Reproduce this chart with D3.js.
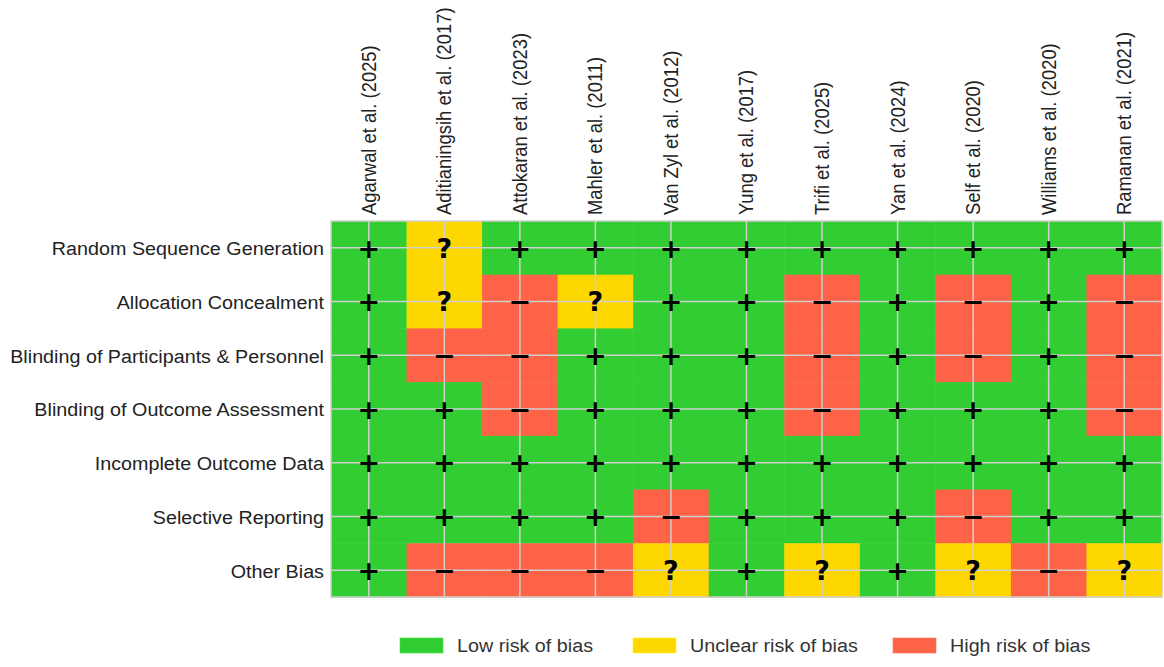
<!DOCTYPE html>
<html>
<head>
<meta charset="utf-8">
<script src="https://cdn.jsdelivr.net/npm/d3@7"></script>
<style>
  html, body { margin: 0; padding: 0; background: #fff; }
  svg { display: block; font-family: "Liberation Sans", Arial, sans-serif; }
</style>
</head>
<body>
<svg id="chart" width="1164" height="667"></svg>
<script>
// Studies (columns) and risk-of-bias domains (rows)
const studies = [
  "Agarwal et al. (2025)", "Aditianingsih et al. (2017)", "Attokaran et al. (2023)",
  "Mahler et al. (2011)", "Van Zyl et al. (2012)", "Yung et al. (2017)",
  "Trifi et al. (2025)", "Yan et al. (2024)", "Self et al. (2020)",
  "Williams et al. (2020)", "Ramanan et al. (2021)"
];
const domains = [
  "Random Sequence Generation", "Allocation Concealment",
  "Blinding of Participants & Personnel", "Blinding of Outcome Assessment",
  "Incomplete Outcome Data", "Selective Reporting", "Other Bias"
];
// Judgements per domain, one per study: L = low, U = unclear, H = high
const randomSequence   = ["L","U","L","L","L","L","L","L","L","L","L"];
const allocation       = ["L","U","H","U","L","L","H","L","H","L","H"];
const blindingPart     = ["L","H","H","L","L","L","H","L","H","L","H"];
const blindingOutcome  = ["L","L","H","L","L","L","H","L","L","L","H"];
const incompleteData   = ["L","L","L","L","L","L","L","L","L","L","L"];
const selectiveReport  = ["L","L","L","L","H","L","L","L","H","L","L"];
const otherBias        = ["L","H","H","H","U","L","U","L","U","H","U"];
const judgements = [randomSequence, allocation, blindingPart, blindingOutcome,
                    incompleteData, selectiveReport, otherBias];

const levels = ["L", "U", "H"];
const levelLabels = ["Low risk of bias", "Unclear risk of bias", "High risk of bias"];
const levelColors = ["#32CD32", "#FFD700", "#FF6347"];
const levelSymbols = ["+", "?", "\u2212"];

const svg = d3.select("#chart");
const margin = { left: 331, top: 221, right: 2, bottom: 70 };
const plotW = 1162 - margin.left;
const plotH = 597 - margin.top;
const fontSize = 18.4;
const stretch = 1.073;   // horizontal widening of the label type

const x = d3.scaleBand().domain(studies).range([margin.left, margin.left + plotW]);
const y = d3.scaleBand().domain(domains).range([margin.top, margin.top + plotH]);
const color = d3.scaleOrdinal().domain(levels).range(levelColors);
const symbol = d3.scaleOrdinal().domain(levels).range(levelSymbols);

const cells = [];
domains.forEach((d, i) => studies.forEach((s, j) => cells.push({ domain: d, study: s, level: judgements[i][j] })));

// Coloured cells
svg.append("g").selectAll("rect").data(cells).join("rect")
  .attr("x", d => x(d.study))
  .attr("y", d => y(d.domain))
  .attr("width", x.bandwidth() + 0.5)
  .attr("height", y.bandwidth() + 0.5)
  .attr("fill", d => color(d.level));

// Grid lines through cell centres
const grid = svg.append("g").attr("stroke", "#d0d0d0").attr("stroke-width", 1.5);
studies.forEach(s => grid.append("line")
  .attr("x1", x(s) + x.bandwidth() / 2).attr("x2", x(s) + x.bandwidth() / 2)
  .attr("y1", margin.top).attr("y2", margin.top + plotH));
domains.forEach(d => grid.append("line")
  .attr("x1", margin.left).attr("x2", margin.left + plotW)
  .attr("y1", y(d) + y.bandwidth() / 2).attr("y2", y(d) + y.bandwidth() / 2));

// Plot border
svg.append("rect")
  .attr("x", margin.left).attr("y", margin.top)
  .attr("width", plotW).attr("height", plotH)
  .attr("fill", "none").attr("stroke", "#cfcfcf").attr("stroke-width", 1.5);

// Judgement symbols
svg.append("g").selectAll("text").data(cells).join("text")
  .attr("x", d => x(d.study) + x.bandwidth() / 2)
  .attr("y", d => y(d.domain) + y.bandwidth() / 2)
  .attr("dy", "0.36em")
  .attr("text-anchor", "middle")
  .attr("font-size", 27)
  .attr("font-weight", "bold")
  .attr("font-family", "DejaVu Sans, sans-serif")
  .attr("fill", "#000")
  .text(d => symbol(d.level));

// Row labels
const yAxis = d3.axisLeft(y).tickSize(0).tickPadding(0);
const gy = svg.append("g").attr("transform", `translate(${margin.left},0)`).call(yAxis);
gy.select(".domain").remove();
gy.selectAll("text")
  .attr("font-size", fontSize).attr("fill", "#222")
  .attr("font-family", "Liberation Sans, Arial, sans-serif")
  .attr("x", 0).attr("dy", "0.4em")
  .attr("transform", `translate(-7,0) scale(${stretch},1)`);

// Column labels, rotated
const xAxis = d3.axisTop(x).tickSize(0).tickPadding(0);
const gx = svg.append("g").attr("transform", `translate(0,${margin.top})`).call(xAxis);
gx.select(".domain").remove();
gx.selectAll("text")
  .attr("font-size", fontSize).attr("fill", "#222")
  .attr("font-family", "Liberation Sans, Arial, sans-serif")
  .attr("text-anchor", "start")
  .attr("transform", `translate(0,-6) scale(${stretch},1) rotate(-90)`)
  .attr("x", 0).attr("y", 0).attr("dy", "0.35em");

// Legend
const legendX = [400, 633, 893];
const legend = svg.append("g");
levels.forEach((lv, i) => {
  const g = legend.append("g").attr("transform", `translate(${legendX[i]},638)`);
  g.append("rect").attr("width", 43).attr("height", 15).attr("fill", color(lv))
    .attr("stroke", d3.color(color(lv)).brighter(0.4)).attr("stroke-width", 0.6);
  g.append("text")
    .attr("transform", `translate(57,8) scale(${stretch},1)`)
    .attr("dy", "0.35em")
    .attr("font-size", fontSize).attr("fill", "#333")
    .attr("font-family", "Liberation Sans, Arial, sans-serif")
    .text(levelLabels[i]);
});
</script>
</body>
</html>
